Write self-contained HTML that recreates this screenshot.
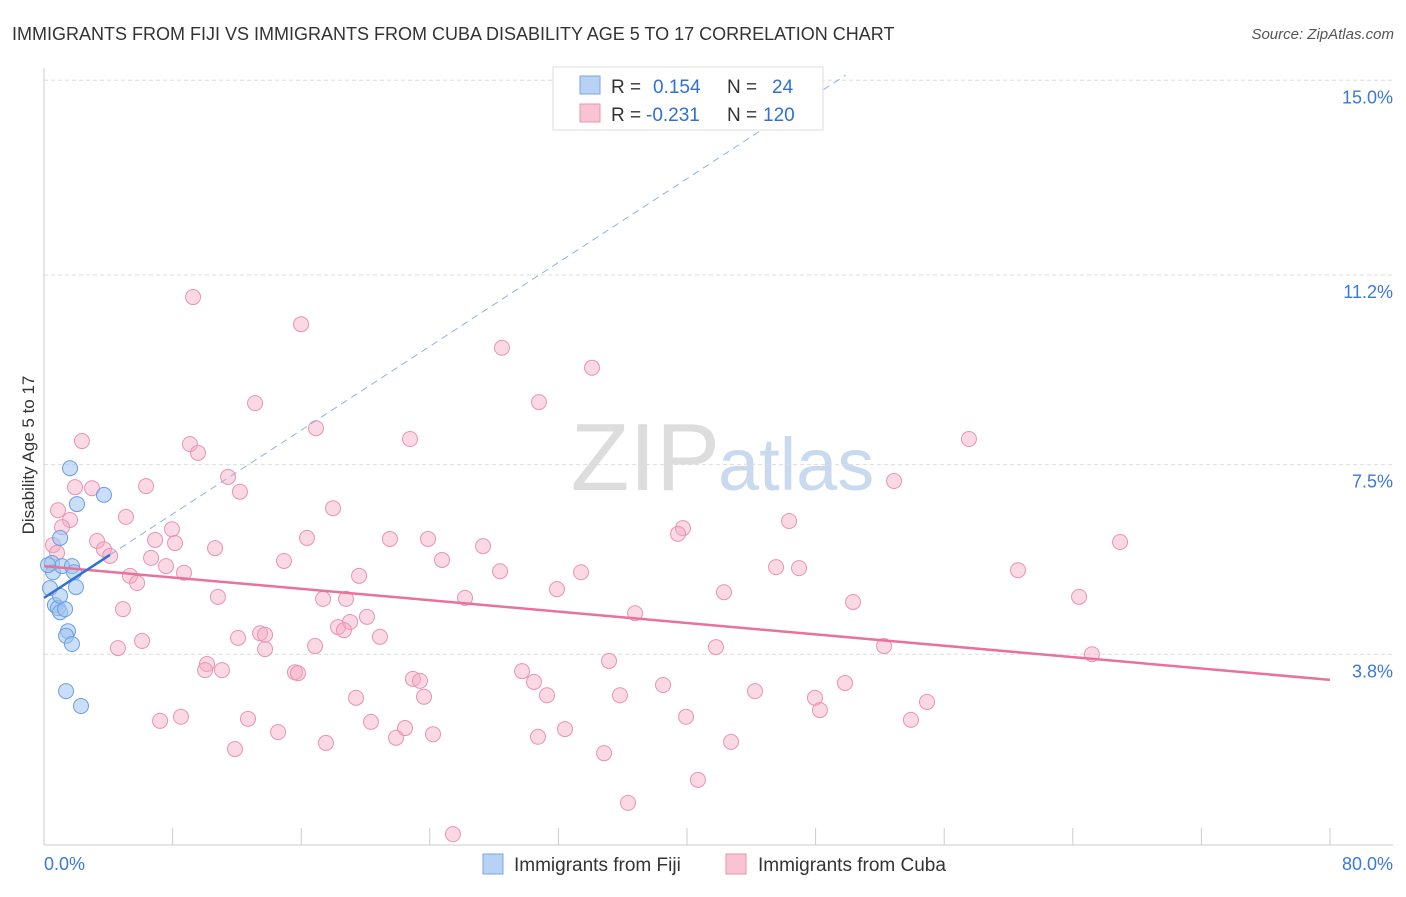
<!DOCTYPE html>
<html><head><meta charset="utf-8"><style>
body{margin:0;background:#fff;font-family:"Liberation Sans",sans-serif;}
svg text{font-family:"Liberation Sans",sans-serif;}
</style></head><body>
<svg id="chart" width="1406" height="892" xmlns="http://www.w3.org/2000/svg">
<text x="12" y="40" font-size="18" fill="#333">IMMIGRANTS FROM FIJI VS IMMIGRANTS FROM CUBA DISABILITY AGE 5 TO 17 CORRELATION CHART</text>
<text x="1394" y="39" font-size="15" fill="#555" font-style="italic" text-anchor="end">Source: ZipAtlas.com</text>
<text x="720" y="490" font-size="96" fill="#ddd" text-anchor="end" font-family="Liberation Serif">ZIP</text>
<text x="718" y="490" font-size="74" fill="#c9d9ee">atlas</text>
<text x="34" y="455" font-size="17" fill="#333" text-anchor="middle" transform="rotate(-90 34 455)">Disability Age 5 to 17</text>
<g id="grid"></g><g id="axes"></g><g id="pts"></g><g id="lines"></g>
<g>
<rect x="553" y="67" width="270" height="63" fill="#fff" stroke="#ddd"/>
<rect x="580" y="76" width="20" height="18" fill="#b8d2f5" stroke="#7aa6e3"/>
<rect x="580" y="104" width="20" height="18" fill="#f8c4d4" stroke="#ea93b0"/>
<text x="611" y="93" font-size="19" fill="#333">R = <tspan fill="#2f6fd6" x="653">0.154</tspan><tspan fill="#333" x="727">N =</tspan><tspan fill="#2f6fd6" x="772">24</tspan></text>
<text x="611" y="121" font-size="19" fill="#333">R = <tspan fill="#2f6fd6" x="646">-0.231</tspan><tspan fill="#333" x="727">N =</tspan><tspan fill="#2f6fd6" x="763">120</tspan></text>
</g>
<g>
<rect x="483" y="854" width="20" height="20" fill="#b8d2f5" stroke="#7aa6e3"/>
<text x="514" y="871" font-size="19" fill="#333">Immigrants from Fiji</text>
<rect x="726" y="854" width="20" height="20" fill="#f8c4d4" stroke="#ea93b0"/>
<text x="758" y="871" font-size="19" fill="#333">Immigrants from Cuba</text>
</g>
</svg>
<script>
const yTicks=[3.8,7.5,11.2,15.0];
const yTickLabels=["3.8%","7.5%","11.2%","15.0%"];
const xTickCount=10;
const xMin=0,xMax=80;
const fijiX=[0.50,0.56,0.37,0.68,0.87,1.00,1.31,1.62,3.73,2.05,1.00,1.12,1.74,1.87,1.99,1.00,1.49,1.37,1.74,1.37,2.30,0.25];
const fijiY=[5.58,5.40,5.09,4.76,4.70,4.62,4.68,7.43,6.91,6.73,6.07,5.52,5.52,5.40,5.11,4.94,4.25,4.16,4.00,3.08,2.79,5.54];
const cubaX=[9.27,15.99,28.49,34.09,30.79,13.13,16.92,22.77,57.54,2.36,9.08,9.58,11.45,6.35,2.99,12.19,52.88,1.93,17.98,0.87,5.10,1.62,1.12,7.96,46.35,39.75,39.44,16.36,21.52,23.89,3.30,6.91,8.15,0.56,10.64,27.31,66.94,3.73,4.11,6.66,0.81,14.93,24.76,7.59,45.54,46.97,28.37,33.41,60.59,5.35,8.71,19.60,5.79,31.91,42.30,10.82,17.36,18.79,26.19,50.33,64.39,4.91,36.77,20.09,18.29,19.04,18.66,13.44,12.07,13.75,20.90,6.10,4.60,13.75,16.86,41.80,52.26,65.19,35.15,10.14,10.02,11.07,15.61,15.80,29.74,22.95,23.39,30.48,38.51,49.83,44.23,31.29,19.41,35.83,23.64,47.96,54.93,48.27,8.52,7.22,12.69,20.34,39.94,53.93,14.56,22.46,32.41,24.20,30.73,21.90,17.54,42.74,11.88,34.84,40.68,36.33,25.44];
const cubaY=[10.77,10.24,9.78,9.39,8.72,8.70,8.21,8.00,8.00,7.96,7.90,7.73,7.26,7.08,7.04,6.97,7.18,7.06,6.65,6.61,6.48,6.42,6.28,6.24,6.40,6.26,6.15,6.07,6.05,6.05,6.01,6.03,5.97,5.93,5.87,5.91,5.99,5.85,5.72,5.68,5.78,5.62,5.64,5.52,5.50,5.48,5.42,5.40,5.44,5.33,5.39,5.33,5.19,5.07,5.01,4.92,4.88,4.88,4.90,4.82,4.92,4.68,4.60,4.53,4.33,4.43,4.27,4.21,4.12,4.18,4.14,4.06,3.92,3.90,3.96,3.94,3.96,3.80,3.67,3.61,3.49,3.49,3.45,3.43,3.47,3.32,3.28,3.26,3.20,3.24,3.08,3.00,2.95,3.00,2.97,2.95,2.87,2.71,2.58,2.50,2.54,2.48,2.58,2.52,2.28,2.36,2.34,2.24,2.19,2.17,2.07,2.09,1.95,1.87,1.35,0.90,0.29];
const cubaTrend=[5.52,3.30];
const fijiTrend=[4.90,0.2045];
const fijiSolidEnd=4.1;
const NS="http://www.w3.org/2000/svg";
const X0=44,X1=1330,Y0=849,PXPER=51.25;
function sx(v){return X0+(v-xMin)/(xMax-xMin)*(X1-X0);}
function sy(v){return Y0-v*PXPER;}
function mk(tag,attrs,parent){const e=document.createElementNS(NS,tag);for(const k in attrs)e.setAttribute(k,attrs[k]);parent.appendChild(e);return e;}
const grid=document.getElementById('grid'),axes=document.getElementById('axes'),pts=document.getElementById('pts'),lines=document.getElementById('lines');
yTicks.forEach((t,i)=>{
 const l=mk('line',{x1:44,x2:1393,y1:sy(t),y2:sy(t),stroke:'#ddd','stroke-dasharray':'4 3'},grid);
 
 
 const tx=mk('text',{x:1393,y:sy(t)+23,'font-size':18,fill:'#3b78d8','text-anchor':'end'},axes);
 tx.textContent=yTickLabels[i];
 
 
});
const ax=mk('line',{x1:44,x2:1393,y1:845,y2:845,stroke:'#ccc'},axes);


const ay=mk('line',{x1:44,x2:44,y1:68,y2:845,stroke:'#ccc'},axes);


for(let i=0;i<=xTickCount;i++){
 const x=sx(xMin+i*(xMax-xMin)/xTickCount);
 const t=mk('line',{x1:x,x2:x,y1:828,y2:845,stroke:'#ccc'},axes);
 
 
}
const xl0=mk('text',{x:44,y:870,'font-size':18,fill:'#3b78d8'},axes);xl0.textContent='0.0%';


const xl1=mk('text',{x:1393,y:870,'font-size':18,fill:'#3b78d8','text-anchor':'end'},axes);xl1.textContent='80.0%';


cubaX.forEach((v,i)=>{
 const c=mk('circle',{cx:sx(v),cy:sy(cubaY[i]),r:7.5,fill:'rgba(245,170,195,0.45)',stroke:'#ea93b0','stroke-width':1},pts);
 
 
});
fijiX.forEach((v,i)=>{
 const c=mk('circle',{cx:sx(v),cy:sy(fijiY[i]),r:7.5,fill:'rgba(160,195,240,0.55)',stroke:'#6a9fe0','stroke-width':1},pts);
 
 
});
const ct=mk('line',{x1:sx(0),y1:sy(cubaTrend[0]),x2:sx(80),y2:sy(cubaTrend[1]),stroke:'#e8729a','stroke-width':2.5},lines);


const xEnd=(15.1-fijiTrend[0])/fijiTrend[1];
const fd=mk('line',{x1:sx(fijiSolidEnd),y1:sy(fijiTrend[0]+fijiTrend[1]*fijiSolidEnd),x2:sx(xEnd),y2:sy(15.1),stroke:'#8fb2e3','stroke-width':1,'stroke-dasharray':'7 5'},lines);


const fs=mk('line',{x1:sx(0),y1:sy(fijiTrend[0]),x2:sx(fijiSolidEnd),y2:sy(fijiTrend[0]+fijiTrend[1]*fijiSolidEnd),stroke:'#2f6fd6','stroke-width':2.5},lines);


</script>
</body></html>
